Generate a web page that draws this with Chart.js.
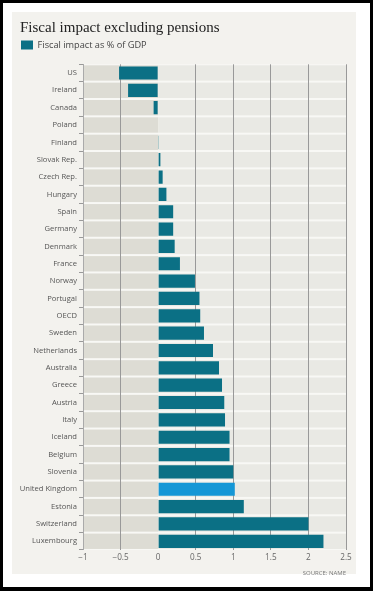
<!DOCTYPE html>
<html>
<head>
<meta charset="utf-8">
<script src="https://cdn.jsdelivr.net/npm/chart.js@4.4.1/dist/chart.umd.min.js"></script>
<style>
  html, body { margin: 0; padding: 0; background: #fff; }
  #frame { position: absolute; left: 0; top: 0; width: 373px; height: 591px; box-sizing: border-box;
           border-style: solid; border-color: #000; border-width: 3px 3px 4px 3px; background: #fff; }
  #panel { position: absolute; left: 12px; top: 12px; width: 344px; height: 562px; background: #f3f2ee; }
  #wrap { position: absolute; left: 0; top: 0; width: 373px; height: 591px; }
</style>
</head>
<body>
<div id="frame"></div>
<div id="panel"></div>
<div id="wrap"><canvas id="c"></canvas></div>
<script>
const titleText = "Fiscal impact excluding pensions";
const seriesName = "Fiscal impact as % of GDP";
const sourceText = "SOURCE: NAME";
const categories = ["US","Ireland","Canada","Poland","Finland","Slovak Rep.","Czech Rep.","Hungary","Spain","Germany","Denmark","France","Norway","Portugal","OECD","Sweden","Netherlands","Australia","Greece","Austria","Italy","Iceland","Belgium","Slovenia","United Kingdom","Estonia","Switzerland","Luxembourg"];
const values = [-0.52,-0.40,-0.06,0,0.01,0.03,0.06,0.11,0.20,0.20,0.22,0.29,0.49,0.55,0.56,0.61,0.73,0.81,0.85,0.88,0.89,0.95,0.95,1.00,1.02,1.14,2.00,2.20];
const highlight = ["United Kingdom"];
const xTicks = [-1,-0.5,0,0.5,1,1.5,2,2.5];

const TEAL = "#0b7085", BLUE = "#1597d6";

const bandPlugin = {
  id: "bands",
  beforeDraw(chart) {
    const {ctx, chartArea, scales: {x, y}} = chart;
    ctx.save();
    ctx.fillStyle = "#f8f8f5";
    ctx.fillRect(chartArea.left, chartArea.top, chartArea.right - chartArea.left, chartArea.bottom - chartArea.top);
    const step = y.getPixelForValue(1) - y.getPixelForValue(0);
    const x0 = x.getPixelForValue(xTicks[0]), xz = x.getPixelForValue(0), x1 = x.getPixelForValue(xTicks[xTicks.length-1]);
    categories.forEach((c, i) => {
      const cy = y.getPixelForValue(i);
      const top = cy - step/2 + 1, h = step - 2;
      ctx.fillStyle = "#dddcd4";
      ctx.fillRect(x0, top, xz - x0, h);
      ctx.fillStyle = "#e9e9e4";
      ctx.fillRect(xz, top, x1 - xz, h);
    });
    ctx.restore();
  }
};

new Chart(document.getElementById("c"), {
  type: "bar",
  data: {
    labels: categories,
    datasets: [{
      label: seriesName,
      data: values,
      xAxisID: "x",
      yAxisID: "y",
      backgroundColor: (ctx) => (ctx.type === "data" && highlight.includes(categories[ctx.dataIndex])) ? BLUE : TEAL,
      borderWidth: 0,
      barPercentage: 0.76,
      categoryPercentage: 1.0
    }]
  },
  options: {
    indexAxis: "y",
    responsive: true,
    maintainAspectRatio: false,
    animation: false,
    layout: { padding: { left: 20, right: 27, top: 19, bottom: 14 } },
    plugins: {
      title: {
        display: true, text: titleText, align: "start", color: "#222",
        font: { family: "'Liberation Serif', serif", size: 15, weight: "normal" },
        padding: { top: 0, bottom: 2.5 }
      },
      legend: {
        display: true, position: "top", align: "start",
        labels: {
          boxWidth: 12, boxHeight: 9, padding: 1, color: "#444",
          font: { family: "'Open Sans', sans-serif", size: 9.2 }
        }
      },
      subtitle: {
        display: true, text: sourceText, position: "bottom", align: "end", color: "#777",
        font: { family: "'Open Sans', sans-serif", size: 6 },
        padding: { top: 4, bottom: 0 }
      },
      tooltip: { enabled: false }
    },
    scales: {
      x: {
        type: "linear", min: -1, max: 2.5,
        afterBuildTicks: (s) => { s.ticks = xTicks.map(v => ({ value: v })); },
        ticks: {
          color: "#666", padding: 3,
          font: { family: "'Open Sans', sans-serif", size: 8.2 },
          callback: (v) => String(v).replace("-", "\u2212")
        },
        grid: {
          drawTicks: false,
          color: (ctx) => ctx.tick && ctx.tick.value === 0 ? "rgba(0,0,0,0)" : (ctx.tick && ctx.tick.value === -1 ? "#aaa" : "#999"),
          lineWidth: 1
        },
        border: { display: false }
      },
      spacer: {
        type: "linear", axis: "x", position: "top", display: true,
        ticks: { display: false }, grid: { display: false, drawTicks: false }, border: { display: false },
        afterFit: (s) => { s.height = 4.6; }
      },
      y: {
        type: "category",
        afterFit: (s) => { s.width = 63; },
        ticks: {
          color: "#555", padding: 2,
          font: { family: "'Open Sans', sans-serif", size: 7.6 }
        },
        grid: {
          offset: true, drawOnChartArea: false, drawTicks: true,
          tickLength: 4, tickColor: "#999"
        },
        border: { display: true, color: "#aaa" }
      }
    }
  },
  plugins: [bandPlugin]
});
</script>
</body>
</html>
